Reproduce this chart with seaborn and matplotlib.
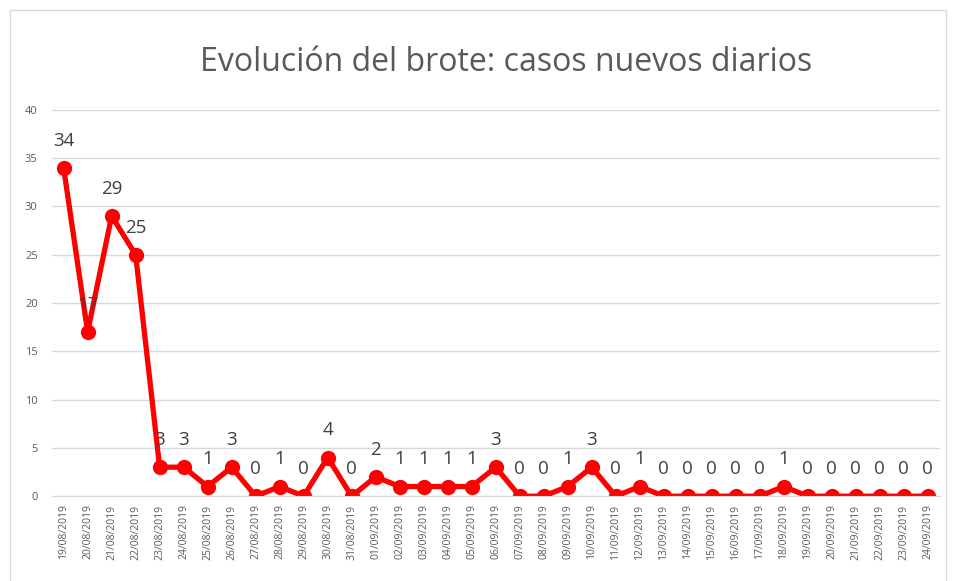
import pandas as pd
import matplotlib.pyplot as plt
import seaborn as sns
from matplotlib.patches import Rectangle

fechas = pd.date_range("2019-08-19", "2019-09-24", freq="D").strftime("%d/%m/%Y").tolist()
casos = [34, 17, 29, 25, 3, 3, 1, 3, 0, 1, 0, 4, 0, 2, 1, 1, 1, 1, 3, 0, 0, 1, 3, 0, 1,
         0, 0, 0, 0, 0, 1, 0, 0, 0, 0, 0, 0]

df = pd.DataFrame({"fecha": fechas, "casos": casos})
df["pos"] = range(len(df))

sns.set_style("white")
plt.rcParams['font.family'] = ['Open Sans', 'DejaVu Sans']

fig = plt.figure(figsize=(9.56, 5.81), dpi=100)
ax = fig.add_axes([0.054, 0.146, 0.929, 0.665])

# chart border
fig.patches.append(Rectangle((10 / 956, -0.01), 936 / 956, 1 - 10 / 581 + 0.01,
                             transform=fig.transFigure, fill=False,
                             edgecolor="#d9d9d9", linewidth=1))

sns.lineplot(data=df, x="pos", y="casos", ax=ax, color="#ff0000", linewidth=3.8,
             marker="o", markersize=11, markeredgewidth=0)

for p, v in zip(df["pos"], df["casos"]):
    ax.annotate(str(v), (p, v), xytext=(0, 13), textcoords="offset points",
                ha="center", va="bottom", fontsize=13.5, color="#404040")

ax.set_xlim(-0.5, len(df) - 0.5)
ax.set_ylim(0, 40)
ax.set_yticks(range(0, 41, 5))
ax.set_xticks(df["pos"])
ax.set_xticklabels(df["fecha"], rotation=90, fontsize=7.5, color="#595959")
ax.set_xticks([i - 0.5 for i in range(len(df) + 1)], minor=True)
ax.tick_params(axis="x", which="major", length=0, pad=6)
ax.tick_params(axis="x", which="minor", length=5, color="#d9d9d9", width=1)
ax.tick_params(axis="y", length=0, labelsize=8, labelcolor="#595959", pad=10)
ax.grid(axis="y", color="#d9d9d9", linewidth=1)
ax.set_axisbelow(True)
for s in ["top", "right", "left"]:
    ax.spines[s].set_visible(False)
ax.spines["bottom"].set_color("#d9d9d9")
ax.set_xlabel("")
ax.set_ylabel("")

fig.text(0.529, 0.892, "Evolución del brote: casos nuevos diarios", ha="center", va="center",
         fontsize=23, color="#595959")

fig.savefig("out.png", dpi=100)
